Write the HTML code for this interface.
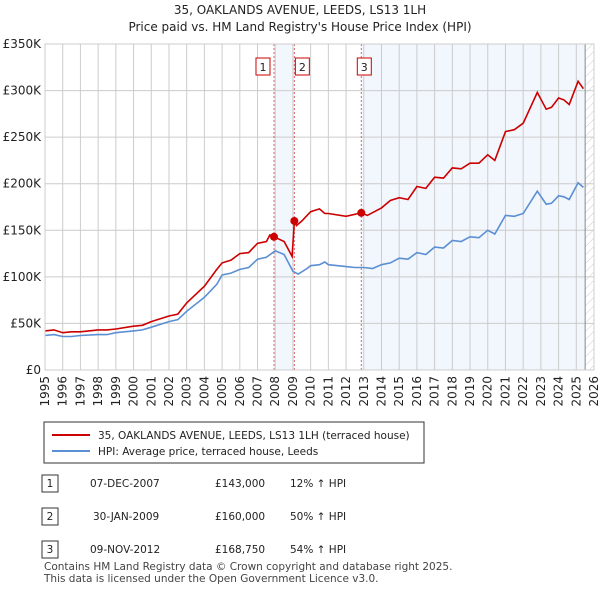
<!DOCTYPE html>
<html><head><meta charset="utf-8"><style>
body{margin:0;background:#fff;font-family:"DejaVu Sans","Liberation Sans",sans-serif;}
svg text{font-family:"DejaVu Sans","Liberation Sans",sans-serif;}
</style></head><body>
<svg id="c" width="600" height="590" xmlns="http://www.w3.org/2000/svg">
<defs><pattern id="hatch" width="6" height="6" patternUnits="userSpaceOnUse" patternTransform="rotate(45)"><line x1="0" y1="0" x2="0" y2="6" stroke="#ccc" stroke-width="1"/></pattern></defs>
<text x="300" y="14" text-anchor="middle" font-size="12" fill="#222">35, OAKLANDS AVENUE, LEEDS, LS13 1LH</text>
<text x="300" y="31" text-anchor="middle" font-size="12" fill="#222">Price paid vs. HM Land Registry's House Price Index (HPI)</text>
<g id="plot"></g>
<rect x="44" y="422" width="380" height="41" fill="#fff" stroke="#333"/>
<line x1="52" y1="435" x2="90" y2="435" stroke="#cc0000" stroke-width="2"/>
<text x="98" y="439" font-size="10.5" fill="#222">35, OAKLANDS AVENUE, LEEDS, LS13 1LH (terraced house)</text>
<line x1="52" y1="451" x2="90" y2="451" stroke="#5b8fd4" stroke-width="2"/>
<text x="98" y="455" font-size="10.5" fill="#222">HPI: Average price, terraced house, Leeds</text>
<g font-size="10.5" fill="#222">
<g><rect x="42" y="475" width="16" height="17" fill="#fff" stroke="#333"/><text x="50" y="487" text-anchor="middle">1</text><text x="90" y="487">07-DEC-2007</text><text x="215" y="487">£143,000</text><text x="290" y="487">12% ↑ HPI</text></g>
<g><rect x="42" y="508" width="16" height="17" fill="#fff" stroke="#333"/><text x="50" y="520" text-anchor="middle">2</text><text x="93" y="520">30-JAN-2009</text><text x="215" y="520">£160,000</text><text x="290" y="520">50% ↑ HPI</text></g>
<g><rect x="42" y="541" width="16" height="17" fill="#fff" stroke="#333"/><text x="50" y="553" text-anchor="middle">3</text><text x="90" y="553">09-NOV-2012</text><text x="215" y="553">£168,750</text><text x="290" y="553">54% ↑ HPI</text></g>
</g>
<text x="44" y="570" font-size="10.5" fill="#444">Contains HM Land Registry data © Crown copyright and database right 2025.</text>
<text x="44" y="582" font-size="10.5" fill="#444">This data is licensed under the Open Government Licence v3.0.</text>
</svg>
<script>
const hpiYears=[1995,1995.5,1996,1996.5,1997,1998,1998.5,1999,2000,2000.5,2001,2002,2002.5,2003,2004,2004.7,2005,2005.5,2006,2006.5,2007,2007.5,2008,2008.5,2009,2009.3,2009.8,2010,2010.5,2010.8,2011,2012,2012.5,2013,2013.5,2014,2014.5,2015,2015.5,2016,2016.5,2017,2017.5,2018,2018.5,2019,2019.5,2020,2020.4,2021,2021.5,2022,2022.8,2023.3,2023.6,2024,2024.3,2024.6,2025.1,2025.4];
const hpiValues=[37,38,36,36,37,38,38,40,42,43,46,52,54,63,78,92,102,104,108,110,119,121,128,124,106,103,109,112,113,116,113,111,110,110,109,113,115,120,119,126,124,132,131,139,138,143,142,150,146,166,165,168,192,178,179,187,186,183,201,196];
const priceYears=[1995,1995.5,1996,1996.5,1997,1998,1998.5,1999,2000,2000.5,2001,2002,2002.5,2003,2004,2004.7,2005,2005.5,2006,2006.5,2007,2007.5,2007.7,2007.93,2008.5,2008.95,2009.08,2009.2,2009.5,2010,2010.5,2010.8,2011,2012,2012.86,2013.2,2014,2014.5,2015,2015.5,2016,2016.5,2017,2017.5,2018,2018.5,2019,2019.5,2020,2020.4,2021,2021.5,2022,2022.8,2023.3,2023.6,2024,2024.3,2024.6,2025.1,2025.4];
const priceValues=[42,43,40,41,41,43,43,44,47,48,52,58,60,72,90,108,115,118,125,126,136,138,145,143,138,122,160,155,160,170,173,168,168,165,168.75,166,174,182,185,183,197,195,207,206,217,216,222,222,231,225,256,258,265,298,280,282,292,290,285,310,302];
const saleYears=[2007.93,2009.08,2012.86];
const saleValues=[143,160,168.75];
const saleLabels=["1","2","3"];
const yTicks=[0,50,100,150,200,250,300,350];
const yTickLabels=["£0","£50K","£100K","£150K","£200K","£250K","£300K","£350K"];
const xTicks=[1995,1996,1997,1998,1999,2000,2001,2002,2003,2004,2005,2006,2007,2008,2009,2010,2011,2012,2013,2014,2015,2016,2017,2018,2019,2020,2021,2022,2023,2024,2025,2026];
const X0=45,X1=594,Y0=370,Y1=44;
const xs=y=>X0+(y-1995)/(2026-1995)*(X1-X0);
const ys=v=>Y0-v/350*(Y0-Y1);
const NS="http://www.w3.org/2000/svg";
const g=document.getElementById('plot');
function mk(t,a,p){const e=document.createElementNS(NS,t);for(const k in a)e.setAttribute(k,a[k]);(p||g).appendChild(e);return e;}
let e;
e=mk('rect',{x:xs(saleYears[0]),y:Y1,width:xs(saleYears[1])-xs(saleYears[0]),height:Y0-Y1,fill:'#f2f6fd'});


e=mk('rect',{x:xs(saleYears[2]),y:Y1,width:xs(2025.5)-xs(saleYears[2]),height:Y0-Y1,fill:'#f2f6fd'});


e=mk('rect',{x:xs(2025.5),y:Y1,width:X1-xs(2025.5),height:Y0-Y1,fill:'url(#hatch)'});


xTicks.forEach(t=>{
 e=mk('line',{x1:xs(t),x2:xs(t),y1:Y1,y2:Y0,stroke:'#ccc'});
 
 
 e=mk('text',{x:0,y:0,'font-size':12,fill:'#222','text-anchor':'end',transform:`translate(${xs(t)+4},${Y0+6}) rotate(-90)`});
 e.textContent=t;
 
 
});
yTicks.forEach((t,i)=>{
 e=mk('line',{x1:X0,x2:X1,y1:ys(t),y2:ys(t),stroke:'#ccc'});
 
 
 e=mk('text',{x:X0-4,y:ys(t)+4,'font-size':12,fill:'#222','text-anchor':'end'});
 e.textContent=yTickLabels[i];
 
 
});
e=mk('line',{x1:xs(2025.5),x2:xs(2025.5),y1:Y1,y2:Y0,stroke:'#888'});


saleYears.forEach((s,i)=>{
 e=mk('line',{x1:xs(s),x2:xs(s),y1:Y1,y2:Y0,stroke:'#e06060','stroke-dasharray':'2,2'});
 
 
 const bx=xs(s)-(i==2?4:i==0?18:-1);
 e=mk('rect',{x:bx,y:58,width:14,height:17,fill:'#fff',stroke:'#cc0000'});
 
 
 e=mk('text',{x:bx+7,y:71,'font-size':11,fill:'#222','text-anchor':'middle'});
 e.textContent=saleLabels[i];
 
 
});
e=mk('path',{d:hpiYears.map((y,i)=>(i?'L':'M')+xs(y).toFixed(1)+','+ys(hpiValues[i]).toFixed(1)).join(''),fill:'none',stroke:'#5b8fd4','stroke-width':1.6});


e=mk('path',{d:priceYears.map((y,i)=>(i?'L':'M')+xs(y).toFixed(1)+','+ys(priceValues[i]).toFixed(1)).join(''),fill:'none',stroke:'#cc0000','stroke-width':1.6});


saleYears.forEach((s,i)=>{
 e=mk('circle',{cx:xs(s),cy:ys(saleValues[i]),r:4,fill:'#cc0000'});
 
 
});
e=mk('rect',{x:X0,y:Y1,width:X1-X0,height:Y0-Y1,fill:'none',stroke:'#ccc'});


</script>
</body></html>
